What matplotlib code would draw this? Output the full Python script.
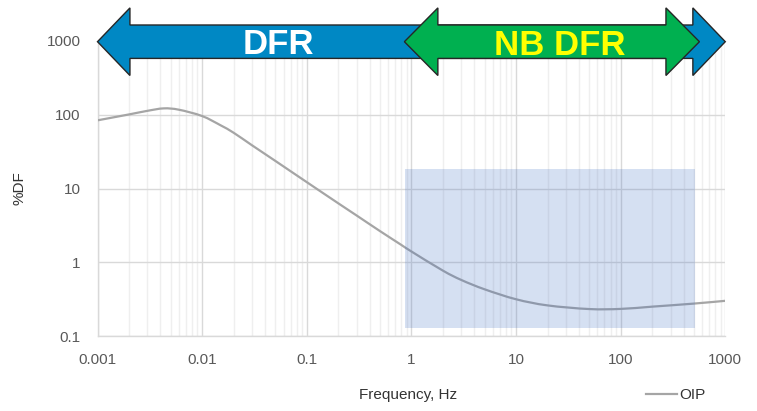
import numpy as np
import matplotlib
matplotlib.use("Agg")
import matplotlib.pyplot as plt
from matplotlib.patches import Polygon, PathPatch
from matplotlib.path import Path
from matplotlib.lines import Line2D

# OIP dissipation factor vs frequency
freq_hz = [0.001, 0.002, 0.003, 0.0043, 0.006, 0.01, 0.015, 0.02, 0.03, 0.05,
           0.1, 0.2, 0.3, 0.5, 0.8, 1, 2, 3, 5, 10, 20, 50, 100, 200, 500, 1000]
df_pct = [84, 101, 113, 122, 117, 96, 72, 57, 38.5, 23.7,
          12.2, 6.3, 4.3, 2.65, 1.72, 1.40, 0.77, 0.575, 0.43, 0.315, 0.26, 0.232, 0.233,
          0.25, 0.275, 0.30]

# Narrow-band measurement window
nb_f_range = [0.87, 515]
nb_df_range = [0.13, 18.4]

# Frequency-range arrows
dfr_range = [0.001, 1000]
nb_dfr_range = [0.857, 566]

x_ticks = [0.001, 0.01, 0.1, 1, 10, 100, 1000]
x_tick_labels = ["0.001", "0.01", "0.1", "1", "10", "100", "1000"]
y_ticks = [0.1, 1, 10, 100, 1000]
y_tick_labels = ["0.1", "1", "10", "100", "1000"]

plt.rcParams["font.family"] = ["Liberation Sans", "DejaVu Sans"]
text_col = "#595959"
curve_col = "#a5a5a5"

fig = plt.figure(figsize=(7.57, 4.11), dpi=100)
ax = fig.add_axes([97.5 / 757, 1 - 336 / 411, (725.3 - 97.5) / 757, (336 - 41) / 411])
ax.set_xscale("log")
ax.set_yscale("log")
ax.set_xlim(0.001, 1000)
ax.set_ylim(0.1, 1000)

# grid
ax.xaxis.set_minor_locator(matplotlib.ticker.LogLocator(base=10, subs=np.arange(2, 10)))
ax.yaxis.set_minor_locator(matplotlib.ticker.NullLocator())
ax.grid(which="major", axis="both", color="#d9d9d9", lw=1.0, zorder=0)
ax.grid(which="minor", axis="x", color="#efefef", lw=1.0, zorder=0)
ax.set_axisbelow(True)

for s in ["top", "right"]:
    ax.spines[s].set_visible(False)
for s in ["left", "bottom"]:
    ax.spines[s].set_color("#d9d9d9")
    ax.spines[s].set_linewidth(1.0)

ax.set_xticks(x_ticks)
ax.set_xticklabels(x_tick_labels)
ax.set_yticks(y_ticks)
ax.set_yticklabels(y_tick_labels)
ax.xaxis.set_minor_formatter(matplotlib.ticker.NullFormatter())
ax.tick_params(which="both", length=0, labelsize=11, labelcolor=text_col)
ax.tick_params(axis="x", pad=12)
ax.tick_params(axis="y", pad=12)


def smooth_path(xs, ys):
    """Smoothed line through the points: Catmull-Rom segments as cubic Beziers,
    built in log-log space and returned as a data-space path."""
    lx = np.log10(xs)
    ly = np.log10(ys)
    n = len(lx)
    verts = [(lx[0], ly[0])]
    codes = [Path.MOVETO]
    for i in range(n - 1):
        p0 = np.array([lx[max(i - 1, 0)], ly[max(i - 1, 0)]])
        p1 = np.array([lx[i], ly[i]])
        p2 = np.array([lx[i + 1], ly[i + 1]])
        p3 = np.array([lx[min(i + 2, n - 1)], ly[min(i + 2, n - 1)]])
        c1 = p1 + (p2 - p0) / 6.0
        c2 = p2 - (p3 - p1) / 6.0
        verts += [tuple(c1), tuple(c2), tuple(p2)]
        codes += [Path.CURVE4] * 3
    verts = [(10 ** a, 10 ** b) for a, b in verts]
    return Path(verts, codes)


# curve
ax.add_patch(PathPatch(smooth_path(freq_hz, df_pct), facecolor="none",
                       edgecolor=curve_col, lw=1.6, zorder=3, capstyle="round"))
oip_handle = Line2D([], [], color=curve_col, lw=1.6, label="OIP")

# shaded window
ax.fill_between(nb_f_range, nb_df_range[0], nb_df_range[1],
                color="#4472c4", alpha=0.22, lw=0, zorder=4)


def arrow_poly(f0, f1, yc, body_dec, head_dec, head_len_dec):
    lf0, lf1 = np.log10(f0), np.log10(f1)
    ly = np.log10(yc)
    pts = [
        (lf0, ly),
        (lf0 + head_len_dec, ly + head_dec),
        (lf0 + head_len_dec, ly + body_dec),
        (lf1 - head_len_dec, ly + body_dec),
        (lf1 - head_len_dec, ly + head_dec),
        (lf1, ly),
        (lf1 - head_len_dec, ly - head_dec),
        (lf1 - head_len_dec, ly - body_dec),
        (lf0 + head_len_dec, ly - body_dec),
        (lf0 + head_len_dec, ly - head_dec),
    ]
    return [(10 ** a, 10 ** b) for a, b in pts]


y_center = 1000 * 10 ** (-(41.7 - 41) / 73.75)
body = 16.7 / 73.75
head = 33.8 / 73.75

ax.add_patch(Polygon(arrow_poly(dfr_range[0], dfr_range[1], y_center, body, head, 0.31),
                     closed=True, facecolor="#0088c4", edgecolor="#262626", lw=1.0,
                     clip_on=False, zorder=6))
ax.add_patch(Polygon(arrow_poly(nb_dfr_range[0], nb_dfr_range[1], y_center, body, head, 0.32),
                     closed=True, facecolor="#00b050", edgecolor="#262626", lw=1.0,
                     clip_on=False, zorder=7))

ax.text(0.053, 1000 * 10 ** (-(54 - 41) / 73.75), "DFR", color="white", fontsize=25,
        fontweight="bold", ha="center", va="baseline", zorder=8, clip_on=False)
ax.text(26.4, 1000 * 10 ** (-(55 - 41) / 73.75), "NB DFR", color="#ffff00", fontsize=25,
        fontweight="bold", ha="center", va="baseline", zorder=8, clip_on=False)

# axis titles
fig.text(408 / 757, 1 - 395 / 411, "Frequency, Hz", fontsize=11, color="#333333",
         ha="center", va="center")
fig.text(20 / 757, 1 - 188 / 411, "%DF", fontsize=11, color="#333333",
         ha="center", va="center", rotation=90)

leg = fig.legend(handles=[oip_handle], loc="center left",
                 bbox_to_anchor=(646 / 757, 1 - 395 / 411),
                 frameon=False, fontsize=11, handlelength=2.0, handletextpad=0.2,
                 borderaxespad=0, borderpad=0)
for t in leg.get_texts():
    t.set_color("#333333")

fig.savefig("out.png", dpi=100)
